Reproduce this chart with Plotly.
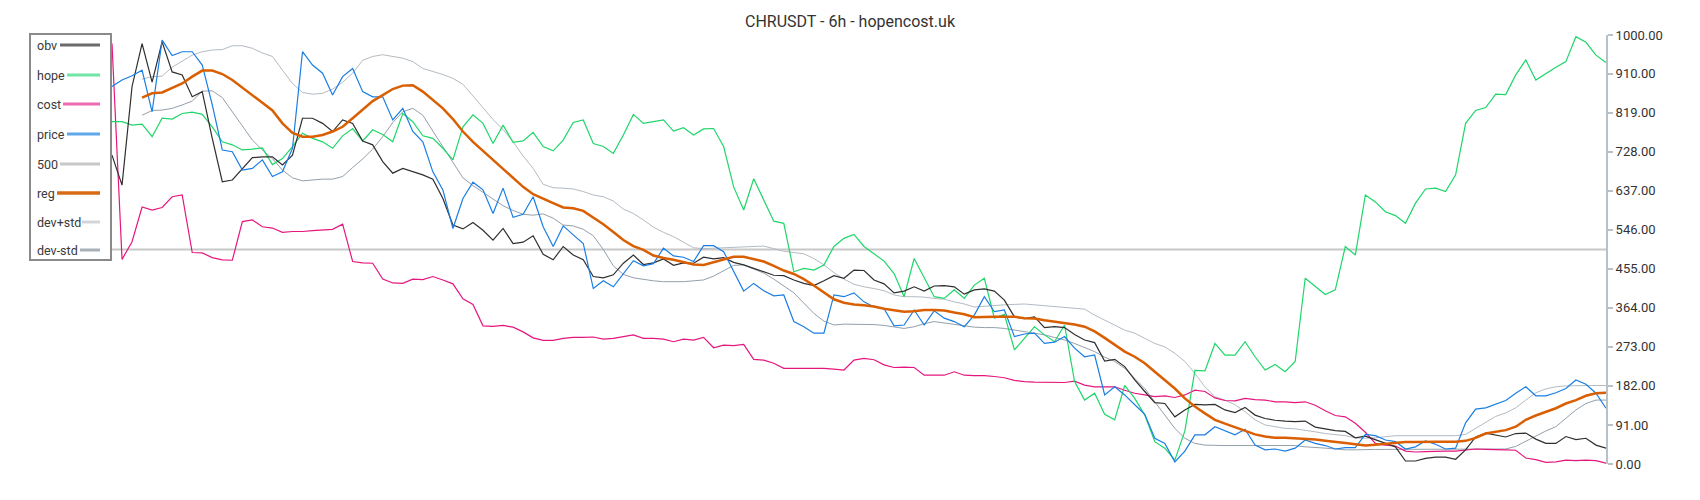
import plotly.graph_objects as go

# values, one sample per step on a 150-step index
price = [
    880, 895, 905, 918, 821, 988, 952, 961, 961, 930, 837, 732, 728, 685, 689, 709, 670, 681, 736, 961, 930, 911, 860, 903, 922,
    868, 856, 856, 802, 829, 775, 751, 681, 639, 549, 619, 657, 639, 584, 643, 575, 582, 623, 553, 507, 555, 534, 514, 409, 427,
    413, 444, 474, 462, 467, 503, 485, 482, 472, 509, 509, 495, 450, 403, 421, 404, 392, 394, 332, 320, 305, 305, 394, 390, 399,
    378, 366, 362, 322, 324, 359, 324, 357, 340, 332, 320, 347, 390, 355, 359, 297, 303, 305, 281, 284, 297, 270, 250, 254, 161,
    180, 161, 138, 116, 60, 48, 5, 30, 68, 68, 87, 77, 68, 81, 44, 33, 35, 30, 37, 56, 48, 43, 35, 38, 38,
    69, 66, 56, 52, 35, 40, 54, 46, 35, 37, 96, 128, 131, 139, 148, 165, 180, 159, 159, 166, 176, 196, 186, 165, 130,
]
obv = [
    720, 650, 880, 980, 890, 984, 914, 907, 856, 868, 759, 658, 662, 689, 714, 716, 716, 697, 720, 806, 806, 794, 775, 802, 794,
    753, 744, 705, 678, 689, 681, 674, 664, 619, 557, 548, 563, 545, 522, 549, 514, 517, 532, 489, 476, 507, 487, 476, 437, 434,
    441, 468, 487, 465, 469, 478, 463, 469, 468, 482, 478, 481, 470, 464, 456, 448, 440, 439, 429, 421, 416, 427, 439, 433, 452,
    451, 429, 420, 399, 403, 413, 403, 415, 416, 413, 396, 406, 408, 403, 382, 343, 339, 343, 318, 320, 318, 302, 289, 283, 240,
    244, 227, 196, 169, 143, 141, 110, 126, 139, 138, 139, 126, 120, 132, 114, 106, 102, 100, 99, 100, 86, 82, 78, 76, 61,
    65, 57, 49, 40, 7, 7, 13, 16, 16, 11, 33, 63, 72, 67, 63, 71, 72, 58, 48, 48, 64, 57, 60, 44, 37,
]
hope = [
    798, 798, 790, 792, 763, 806, 804, 817, 820, 815, 786, 751, 744, 732, 734, 737, 698, 712, 740, 771, 759, 751, 736, 765, 782,
    753, 779, 768, 751, 817, 798, 765, 759, 736, 709, 786, 814, 794, 747, 790, 750, 753, 773, 740, 730, 755, 796, 802, 747, 740,
    724, 767, 815, 794, 798, 802, 776, 784, 767, 781, 782, 740, 646, 592, 665, 615, 566, 561, 448, 456, 452, 464, 507, 526, 535,
    507, 489, 473, 444, 390, 479, 433, 390, 386, 406, 386, 417, 433, 340, 349, 266, 293, 320, 301, 285, 324, 192, 149, 165, 116,
    103, 183, 153, 114, 52, 37, 9, 77, 218, 217, 281, 254, 254, 285, 250, 219, 232, 215, 239, 433, 413, 395, 406, 507, 487,
    627, 611, 588, 579, 561, 608, 641, 643, 635, 674, 794, 824, 831, 862, 861, 907, 942, 895, 911, 925, 938, 996, 983, 953, 936,
]
cost = [
    980, 477, 518, 599, 592, 598, 623, 627, 493, 492, 481, 476, 475, 565, 569, 553, 550, 540, 542, 542, 544, 546, 547, 559, 472,
    469, 468, 431, 422, 421, 431, 430, 437, 429, 420, 385, 372, 322, 321, 323, 319, 308, 294, 288, 288, 293, 295, 295, 296, 291,
    293, 297, 301, 293, 293, 291, 285, 291, 289, 295, 271, 277, 276, 279, 244, 242, 235, 223, 223, 223, 223, 223, 221, 219, 242,
    246, 243, 231, 225, 226, 225, 207, 207, 207, 215, 207, 206, 206, 204, 201, 195, 192, 191, 191, 191, 190, 193, 184, 180, 180,
    180, 172, 165, 161, 157, 159, 155, 161, 172, 169, 154, 148, 147, 153, 150, 149, 145, 145, 143, 145, 137, 124, 113, 110, 95,
    74, 48, 44, 42, 30, 28, 29, 30, 30, 30, 33, 35, 34, 34, 33, 32, 14, 10, 4, 5, 9, 8, 9, 8, 2,
]
reg = [
    None, None, None, 854, 864, 866, 876, 887, 903, 917, 917, 909, 895, 878, 859, 842, 824, 794, 772, 763, 763, 767, 775, 786, 806,
    827, 846, 860, 874, 882, 883, 868, 849, 829, 804, 775, 751, 730, 711, 688, 667, 646, 629, 618, 608, 598, 596, 590, 575, 559,
    541, 522, 508, 499, 486, 480, 476, 471, 465, 464, 470, 476, 483, 483, 477, 472, 462, 451, 443, 431, 416, 399, 384, 376, 372,
    370, 367, 362, 358, 355, 356, 359, 359, 358, 353, 349, 342, 343, 343, 343, 343, 340, 339, 335, 332, 329, 325, 320, 309, 294,
    279, 262, 250, 235, 215, 196, 176, 153, 134, 118, 103, 94, 86, 78, 69, 64, 61, 61, 60, 58, 57, 54, 52, 49, 46,
    43, 45, 47, 49, 51, 51, 52, 52, 52, 52, 54, 61, 71, 75, 79, 87, 103, 113, 122, 130, 141, 149, 159, 165, 166,
]
dev_plus = [
    None, None, None, 897, 903, 904, 925, 939, 953, 961, 965, 966, 975, 975, 969, 958, 950, 918, 887, 866, 862, 864, 874, 890, 911,
    941, 950, 954, 950, 946, 938, 922, 915, 908, 899, 885, 858, 831, 803, 780, 751, 718, 689, 652, 644, 643, 641, 635, 627, 623,
    613, 594, 584, 569, 552, 540, 530, 517, 504, 502, 503, 504, 505, 506, 508, 508, 502, 496, 493, 490, 479, 464, 446, 431, 419,
    413, 409, 404, 394, 390, 390, 389, 386, 384, 378, 373, 366, 368, 370, 371, 372, 373, 371, 369, 367, 364, 363, 361, 347, 335,
    324, 312, 305, 293, 281, 273, 258, 239, 211, 180, 157, 149, 138, 122, 103, 91, 87, 83, 82, 79, 75, 71, 69, 66, 61,
    60, 61, 64, 66, 66, 66, 66, 66, 66, 66, 69, 83, 96, 111, 119, 131, 149, 166, 175, 180, 182, 183, 183, 183, 183,
]
dev_minus = [
    None, None, None, 813, 824, 825, 829, 837, 846, 869, 870, 854, 821, 790, 755, 732, 712, 685, 667, 660, 662, 664, 664, 670, 691,
    711, 734, 763, 796, 821, 829, 813, 776, 740, 705, 667, 649, 633, 618, 602, 591, 582, 580, 583, 573, 557, 555, 547, 532, 500,
    462, 442, 434, 430, 427, 425, 425, 425, 427, 429, 438, 451, 463, 464, 455, 445, 431, 415, 399, 375, 351, 333, 324, 326, 326,
    326, 325, 323, 320, 316, 320, 327, 332, 329, 326, 322, 319, 318, 318, 316, 312, 308, 305, 301, 295, 289, 281, 272, 262, 249,
    239, 223, 200, 176, 145, 114, 83, 60, 48, 44, 43, 43, 43, 43, 43, 43, 43, 43, 43, 40, 39, 37, 35, 33, 33,
    34, 34, 34, 34, 34, 34, 34, 34, 34, 34, 34, 34, 34, 34, 35, 41, 53, 66, 77, 87, 106, 126, 141, 149, 149,
]
level_500 = [500, 500]
y_ticks = [0, 91, 182, 273, 364, 455, 546, 637, 728, 819, 910, 1000]

idx = list(range(len(price)))
ends = [idx[0], idx[-1]]

# the page body adds an 8px margin, so the figure is laid out in page pixels minus that
BODY = 8
FIG_W, FIG_H = 1684, 484
PX0, PX1, PY0, PY1 = 112 - BODY, 1606 - BODY, 35 - BODY, 464 - BODY


def px(x):
    return (x - BODY - PX0) / (PX1 - PX0)


def py(y):
    return (PY1 - (y - BODY)) / (PY1 - PY0)


fig = go.Figure()
fig.add_trace(go.Scatter(x=ends, y=level_500, mode="lines", line=dict(color="#c8c8c8", width=2)))
fig.add_trace(go.Scatter(x=idx, y=dev_plus, mode="lines", line=dict(color="#b3bbc3", width=1)))
fig.add_trace(go.Scatter(x=idx, y=dev_minus, mode="lines", line=dict(color="#93a0ab", width=1)))
fig.add_trace(go.Scatter(x=idx, y=cost, mode="lines", line=dict(color="#e5177e", width=1.2)))
fig.add_trace(go.Scatter(x=idx, y=hope, mode="lines", line=dict(color="#1fd66a", width=1.2)))
fig.add_trace(go.Scatter(x=idx, y=obv, mode="lines", line=dict(color="#2f2f2f", width=1.2)))
fig.add_trace(go.Scatter(x=idx, y=price, mode="lines", line=dict(color="#1a7ee3", width=1.2)))
fig.add_trace(go.Scatter(x=idx, y=reg, mode="lines", line=dict(color="#d95f02", width=2.5)))

# hand-drawn legend: label on the left, swatch on the right (page pixels)
legend_rows = [
    ("obv", "#6b6b6b", 3, 45, 60),
    ("hope", "#6fe6a4", 3, 75, 67),
    ("cost", "#ee6bb3", 3, 104, 63),
    ("price", "#5fa8ea", 3, 134, 67),
    ("500", "#c8c8c8", 3, 164, 60),
    ("reg", "#d86a16", 3.5, 193, 57),
    ("dev+std", "#d2d6da", 3, 222, 82),
    ("dev-std", "#a9b1b8", 3, 250, 80),
]
shapes = [dict(type="rect", xref="paper", yref="paper",
               x0=px(30), x1=px(111), y0=py(260), y1=py(34),
               line=dict(color="#8a8a8a", width=2), fillcolor="white")]
annotations = []
for name, color, width, row_y, x_start in legend_rows:
    shapes.append(dict(type="line", xref="paper", yref="paper",
                       x0=px(x_start), x1=px(100), y0=py(row_y), y1=py(row_y),
                       line=dict(color=color, width=width)))
    annotations.append(dict(text=name, xref="paper", yref="paper",
                            x=px(35), y=py(row_y + 0.5), xanchor="left", yanchor="middle",
                            showarrow=False, font=dict(size=12.5, color="#3a3a3a")))

fig.update_layout(
    width=FIG_W,
    height=FIG_H,
    margin=dict(l=PX0, r=FIG_W - PX1, t=PY0, b=FIG_H - PY1),
    paper_bgcolor="white",
    plot_bgcolor="white",
    font=dict(family="Roboto, sans-serif", color="#333"),
    showlegend=False,
    title=dict(text="CHRUSDT - 6h - hopencost.uk", x=(850 - BODY) / FIG_W, xref="container",
               y=1 - (21 - BODY) / FIG_H, yref="container", yanchor="middle",
               font=dict(size=16, color="#333")),
    shapes=shapes,
    annotations=annotations,
)
fig.update_xaxes(range=[idx[0], idx[-1]], visible=False)
fig.update_yaxes(
    side="right",
    range=[0, 1000],
    tickvals=y_ticks,
    ticktext=[f"{v:.2f}" for v in y_ticks],
    showgrid=False,
    zeroline=False,
    showline=True,
    linecolor="#b7c1c7",
    linewidth=2,
    ticks="outside",
    ticklen=5,
    tickwidth=2,
    tickcolor="#b7c1c7",
    tickfont=dict(size=13, color="#333"),
)

fig.write_html("out.html")
